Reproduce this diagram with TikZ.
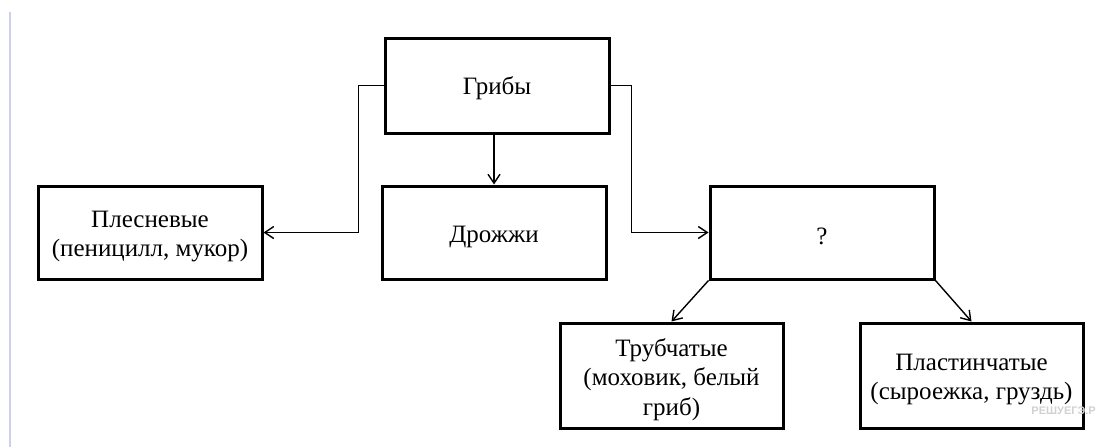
\documentclass[tikz,border=0pt]{standalone}
\usepackage{fontspec}
\setmainfont{Liberation Serif}
\newfontfamily\wmfont{Liberation Sans}
\usetikzlibrary{arrows.meta}
\begin{document}
\begin{tikzpicture}[x=1pt,y=-1pt,
  box/.style={draw, line width=3pt, minimum width=224pt, inner sep=0pt},
  lbl/.style={align=center, inner sep=0pt, yshift=-4pt, font=\fontsize{25}{29.5}\selectfont},
  conn/.style={line width=1.4pt, -{Straight Barb[length=9pt,width=12pt,line width=1.4pt]}}]
\useasboundingbox (0,0) rectangle (1097,447);
\fill[white] (0,0) rectangle (1097,447);
\draw[line width=1.5pt, color=gray!45!blue!25] (10,12) -- (10,447);
\node[box, minimum height=95pt, label={[lbl,yshift=1pt]center:Грибы}] (g) at (497,85.5) {};
\node[box, minimum height=93pt, label={[lbl]center:Плесневые\\(пеницилл, мукор)}] (p) at (150,232.5) {};
\node[box, minimum height=93pt, label={[lbl]center:Дрожжи}] (d) at (494,232.5) {};
\node[box, minimum height=93pt, label={[lbl]center:?}] (q) at (822,232.5) {};
\node[box, minimum width=223pt, minimum height=105pt, label={[lbl]center:Трубчатые\\(моховик, белый\\гриб)}] (t) at (671.5,375.5) {};
\node[box, minimum width=223pt, minimum height=105pt, label={[lbl]center:Пластинчатые\\(сыроежка, груздь)}] (pl) at (971.5,375.5) {};
\draw[conn] (g.west) -- ++(-25,0) |- (p.east);
\draw[conn] (g.east) -- ++(21,0) |- (q.west);
\draw[conn] (d.north |- g.south) -- (d.north);
\draw[conn] (q.south west) -- (t.north);
\draw[conn] (q.south east) -- (pl.north);
\node[anchor=east, inner sep=0pt, text=black!18, font=\wmfont\bfseries\fontsize{11}{13}\selectfont] (wm) at (1096,411) {РЕШУЕГЭ.Р};
\end{tikzpicture}
\end{document}
